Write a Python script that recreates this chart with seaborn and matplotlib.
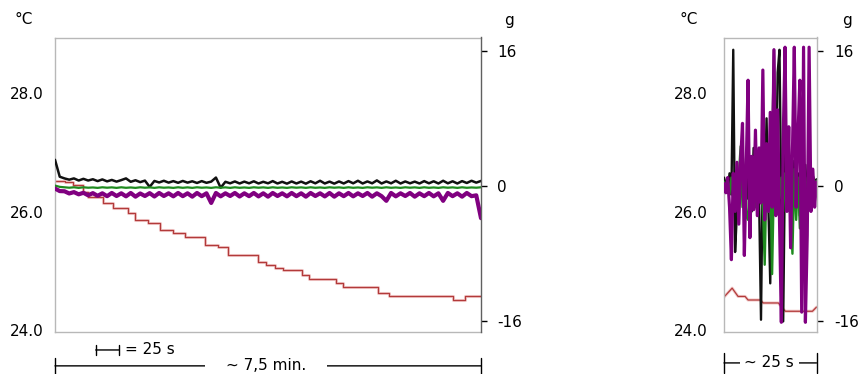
import numpy as np
import matplotlib
matplotlib.use("Agg")
import matplotlib.pyplot as plt
import seaborn as sns

# long recording, about 7.5 min, acceleration read every 5 s
long_time_s = np.arange(0, 451, 5)
long_black_g = [3.1, 1.1, 0.9, 0.75, 0.9, 0.65, 0.85, 0.65, 0.8, 0.58,
                0.78, 0.55, 0.72, 0.52, 0.7, 0.9, 0.5, 0.68, 0.46, 0.64,
                -0.1, 0.6, 0.42, 0.62, 0.4, 0.58, 0.38, 0.6, 0.4, 0.56,
                0.36, 0.58, 0.38, 0.52, 1.0, -0.2, 0.5, 0.32, 0.54, 0.3,
                0.52, 0.32, 0.56, 0.3, 0.5, 0.32, 0.58, 0.3, 0.5, 0.28,
                0.54, 0.3, 0.52, 0.28, 0.56, 0.32, 0.62, 0.3, 0.52, 0.28,
                0.54, 0.3, 0.58, 0.32, 0.62, 0.3, 0.54, 0.32, 0.66, 0.3,
                0.54, 0.32, 0.62, 0.3, 0.54, 0.32, 0.52, 0.3, 0.58, 0.32,
                0.56, 0.3, 0.62, 0.32, 0.56, 0.3, 0.58, 0.36, 0.62, 0.4, 0.6]
long_green_g = [0.05, -0.1, -0.15, -0.2, -0.15, -0.22, -0.15, -0.2, -0.17, -0.22,
                -0.15, -0.2, -0.16, -0.22, -0.15, -0.21, -0.17, -0.22, -0.15, -0.2,
                -0.16, -0.22, -0.15, -0.2, -0.17, -0.22, -0.15, -0.21, -0.16, -0.22,
                -0.15, -0.2, -0.17, -0.22, -0.15, -0.2, -0.16, -0.22, -0.15, -0.21,
                -0.17, -0.22, -0.15, -0.2, -0.16, -0.22, -0.15, -0.21, -0.17, -0.22,
                -0.15, -0.2, -0.16, -0.22, -0.15, -0.21, -0.17, -0.22, -0.15, -0.2,
                -0.16, -0.22, -0.15, -0.21, -0.17, -0.22, -0.15, -0.2, -0.16, -0.22,
                -0.15, -0.21, -0.17, -0.22, -0.15, -0.2, -0.16, -0.22, -0.15, -0.21,
                -0.17, -0.22, -0.15, -0.2, -0.16, -0.22, -0.15, -0.21, -0.17, -0.2, -0.15]
long_purple_g = [-0.3, -0.6, -0.62, -0.88, -0.72, -0.98, -0.8, -1.1, -0.84, -1.16,
                 -0.86, -1.2, -0.82, -1.18, -0.86, -1.22, -0.82, -1.26, -0.88, -1.18,
                 -0.84, -1.24, -0.82, -1.18, -0.86, -1.22, -0.82, -1.2, -0.86, -1.26,
                 -0.82, -1.2, -0.86, -2.0, -0.82, -1.22, -0.86, -1.18, -0.82, -1.24,
                 -0.86, -1.2, -0.82, -1.23, -0.86, -1.26, -0.82, -1.18, -0.86, -1.22,
                 -0.82, -1.2, -0.86, -1.26, -0.82, -1.18, -0.86, -1.23, -0.82, -1.26,
                 -0.86, -1.2, -0.82, -1.22, -0.86, -1.18, -0.82, -1.26, -0.86, -1.2,
                 -1.75, -0.82, -1.22, -0.86, -1.18, -0.82, -1.26, -0.86, -1.2, -0.82,
                 -1.22, -0.86, -1.75, -0.82, -1.2, -0.86, -1.26, -0.82, -1.2, -1.1, -3.8]
long_temp_time_s = [0, 10.6, 19.0, 29.6, 34.9, 50.7, 61.3, 77.1, 84.5, 98.2,
                    110.9, 124.6, 137.3, 158.4, 172.2, 182.7, 214.4, 222.9, 232.4, 240.8,
                    260.9, 268.3, 296.8, 304.2, 341.2, 352.8, 420.4, 433.1, 450]
long_temp_c = [26.52, 26.50, 26.45, 26.33, 26.24, 26.14, 26.06, 25.97, 25.86, 25.81,
               25.69, 25.64, 25.57, 25.43, 25.40, 25.27, 25.15, 25.10, 25.05, 25.01,
               24.93, 24.86, 24.79, 24.73, 24.62, 24.57, 24.51, 24.57, 24.57]

# short window, about 25 s, acceleration read every 0.5 s
short_time_s = np.arange(0, 25.01, 0.5)
short_black_g = [1.0, 0.2, -0.5, 1.5, -1.0, 16.1, -7.8, -3.0, 1.5, -1.0,
                 2.0, -2.0, 3.5, -1.5, 2.0, -3.0, 4.5, -1.0, 2.5, -2.0,
                 -15.8, 3.0, -1.5, 8.0, -2.5, -11.5, 4.0, 16.1, -2.0, 13.4,
                 16.1, -3.0, -16.0, 3.5, 6.0, -2.5, 2.0, -1.5, 3.0, -2.0,
                 1.5, -3.5, 2.0, -1.0, 2.5, -2.0, 1.0, -1.5, 1.2, 0.5, 0.8]
short_green_g = [0.5, -0.3, 0.8, -1.0, 1.0, -1.5, 0.5, -2.0, 1.2, 4.7,
                 -2.5, 1.0, -3.5, -4.0, 2.0, -1.5, 1.5, -2.5, 2.0, -1.0,
                 3.5, -2.0, -9.3, 1.5, -3.0, 2.0, -10.4, 1.0, -2.5, 2.5,
                 -1.5, 1.0, -3.0, 1.5, -2.0, 1.0, -3.5, -8.0, 2.0, -4.0,
                 1.0, -5.0, 1.5, -2.0, 1.0, -1.5, 1.0, -0.5, 1.2, 0.3, 0.6]
short_purple_g = [0.3, -0.8, 1.0, -2.5, -8.7, 1.5, -3.0, 2.8, -4.5, 3.0,
                  7.4, -8.2, 2.0, 12.5, -6.1, 3.5, -2.8, 6.6, -3.5, 4.5,
                  -2.0, 13.7, -4.0, 5.0, -3.0, 8.7, -2.5, 16.1, -3.5, 9.0,
                  -4.0, -16.1, 5.5, 16.4, -3.0, 7.0, -7.3, 4.0, 16.4, -2.5,
                  6.0, 12.5, -14.9, 16.4, -16.1, -5.8, 16.4, -3.0, 2.0, -2.5, 0.5]
short_temp_time_s = [0, 2.2, 3.8, 5.7, 6.5, 9.8, 10.6, 14.7, 15.8, 16.6, 23.9, 25]
short_temp_c = [24.56, 24.71, 24.57, 24.57, 24.51, 24.51, 24.46, 24.46, 24.37, 24.32, 24.32, 24.39]

temp_ticks = [24.0, 26.0, 28.0]
g_ticks = [-16, 0, 16]

sns.set_style("white")
plt.rcParams['font.family'] = ['DejaVu Sans']
plt.rcParams['font.size'] = 11
plt.rcParams['text.color'] = 'black'
plt.rcParams['ytick.color'] = 'black'
plt.rcParams['ytick.labelcolor'] = 'black'

BLACK = "#111111"
GREEN = "#1f8a1f"
PURPLE = "#800080"
RED = "#b23a3a"
HALO = "#f2caca"
BOX = "#b8b8b8"

fig = plt.figure(figsize=(8.59, 3.74), dpi=100)


def draw_panel(rect, t, black, green, purple, t_temp, temp, long_view, left_pad, right_spine_color, right_pad):
    ax = fig.add_axes(rect)
    ax2 = ax.twinx()

    draw = 'steps-post' if long_view else 'default'
    sns.lineplot(x=t_temp, y=temp, ax=ax, color=HALO, lw=2.2, estimator=None, sort=False, drawstyle=draw)
    sns.lineplot(x=t_temp, y=temp, ax=ax, color=RED, lw=0.9, estimator=None, sort=False, drawstyle=draw)

    if long_view:
        widths = (1.8, 1.6, 3.0)
    else:
        widths = (1.7, 1.7, 2.3)
    sns.lineplot(x=t, y=black, ax=ax2, color=BLACK, lw=widths[0], estimator=None, sort=False)
    sns.lineplot(x=t, y=green, ax=ax2, color=GREEN, lw=widths[1], estimator=None, sort=False)
    sns.lineplot(x=t, y=purple, ax=ax2, color=PURPLE, lw=widths[2], estimator=None, sort=False)

    ax.set_xlim(t[0], t[-1])
    ax.set_ylim(23.97, 28.94)
    ax2.set_ylim(-17.25, 17.55)

    ax.set_yticks(temp_ticks)
    ax.set_yticklabels([f"{v:.1f}" for v in temp_ticks])
    ax.tick_params(axis='y', length=0, pad=left_pad, labelsize=11)
    ax.set_xticks([])
    ax2.set_yticks(g_ticks)
    ax2.set_yticklabels([str(v) for v in g_ticks])
    ax2.tick_params(axis='y', length=4.5, width=1, color='black', pad=right_pad,
                    labelsize=11, direction='out')
    ax.set_xlabel("")
    ax.set_ylabel("")
    ax2.set_ylabel("")

    for name in ['top', 'left', 'bottom']:
        ax.spines[name].set_color(BOX)
        ax.spines[name].set_linewidth(1)
        ax2.spines[name].set_visible(False)
    ax.spines['right'].set_visible(False)
    ax2.spines['right'].set_color(right_spine_color)
    ax2.spines['right'].set_linewidth(1)
    return ax, ax2


bottom, height = 42 / 374, 294.5 / 374
ax_l, ax_l2 = draw_panel([55 / 859, bottom, 426 / 859, height], long_time_s,
                         long_black_g, long_green_g, long_purple_g,
                         long_temp_time_s, long_temp_c, True, 8, "#606060", 7)
ax_r, ax_r2 = draw_panel([724 / 859, bottom, 92.5 / 859, height], short_time_s,
                         short_black_g, short_green_g, short_purple_g,
                         short_temp_time_s, short_temp_c, False, 12, BOX, 8)

# unit labels
for x in [23.5, 689]:
    fig.text(x / 859, 1 - 24.5 / 374, "°C", ha='center', va='baseline', fontsize=11)
for x in [509, 847]:
    fig.text(x / 859, 1 - 24.5 / 374, "g", ha='center', va='baseline', fontsize=11)

# time scale bars under the panels
bar = dict(arrowstyle='|-|,widthA=0.36,widthB=0.36', mutation_scale=10, shrinkA=0, shrinkB=0,
           lw=1, color='black')
ax_l.annotate("", xy=(43, -0.061), xytext=(68, -0.061), xycoords=ax_l.get_xaxis_transform(),
              textcoords=ax_l.get_xaxis_transform(), arrowprops=bar, annotation_clip=False)
ax_l.text(74, -0.061, "= 25 s", transform=ax_l.get_xaxis_transform(), ha='left', va='center',
          fontsize=11)

long_bar = dict(bar, arrowstyle='|-|,widthA=0.58,widthB=0.58')
ax_l.annotate("", xy=(0, -0.115), xytext=(450, -0.115), xycoords=ax_l.get_xaxis_transform(),
              textcoords=ax_l.get_xaxis_transform(), arrowprops=long_bar, annotation_clip=False)
ax_l.text(223, -0.115, "~ 7,5 min.", transform=ax_l.get_xaxis_transform(), ha='center',
          va='center', fontsize=11, zorder=5,
          bbox=dict(boxstyle='square,pad=1.35', fc='white', ec='none'))

short_bar = dict(bar, arrowstyle='|-|,widthA=0.72,widthB=0.72')
ax_r.annotate("", xy=(0, -0.105), xytext=(25, -0.105), xycoords=ax_r.get_xaxis_transform(),
              textcoords=ax_r.get_xaxis_transform(), arrowprops=short_bar, annotation_clip=False)
ax_r.text(12.2, -0.105, "~ 25 s", transform=ax_r.get_xaxis_transform(), ha='center',
          va='center', fontsize=11, zorder=5,
          bbox=dict(boxstyle='square,pad=0.3', fc='white', ec='none'))

fig.savefig("out.png", dpi=100)
